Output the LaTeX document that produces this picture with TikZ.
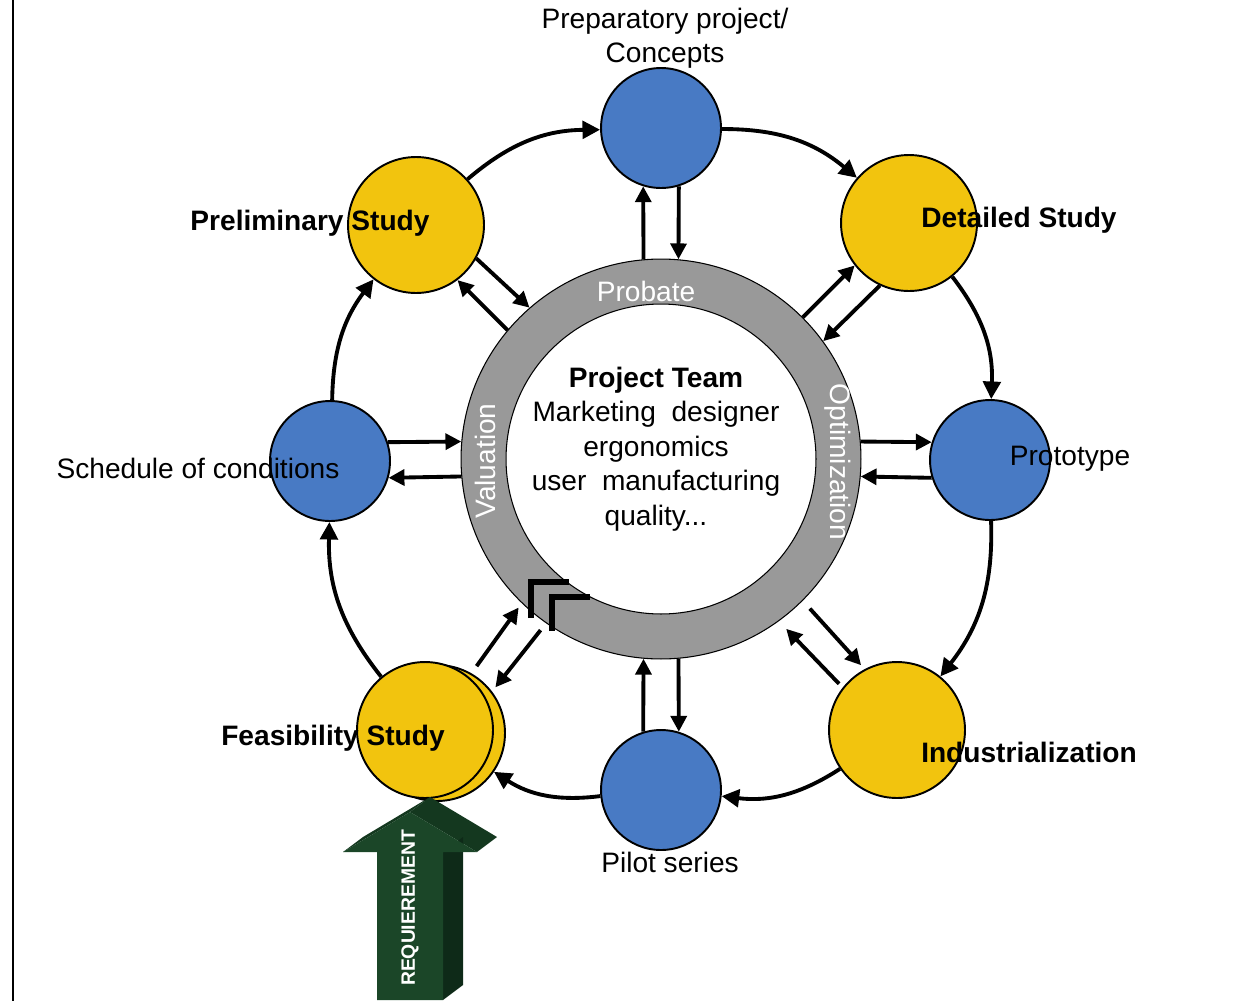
\documentclass[tikz,border=0pt]{standalone}
\usepackage{fontspec}
\setmainfont{Liberation Sans}
\usetikzlibrary{arrows.meta}
\definecolor{phaseyellow}{RGB}{242,196,14}
\definecolor{phaseblue}{RGB}{72,122,196}
\definecolor{ringgray}{RGB}{153,153,153}
\definecolor{reqfront}{RGB}{27,70,40}
\definecolor{reqside}{RGB}{14,42,24}
\definecolor{reqtop}{RGB}{20,56,31}

\begin{document}
\begin{tikzpicture}[x=0.02cm,y=-0.02cm]
\tikzstyle{yellownode}=[circle,draw,line width=1.1pt,fill=phaseyellow,minimum size=2.72cm,inner sep=0pt]
\tikzstyle{bluenode}=[circle,draw,line width=1.1pt,fill=phaseblue,minimum size=2.4cm,inner sep=0pt]
\tikzstyle{cyclearrow}=[line width=2.2pt,-{Triangle[length=10pt,width=10pt]}]
\tikzstyle{spokearrow}=[line width=2.2pt,-{Triangle[length=9pt,width=9pt]}]
\tikzstyle{lbl}=[inner sep=0pt,font=\fontsize{16}{19.5}\selectfont]
\tikzstyle{boldlbl}=[inner sep=0pt,font=\fontsize{16}{19.5}\selectfont\bfseries]
\useasboundingbox (0,0) rectangle (1236,1001);
\draw [line width=1.7pt] (13,0) -- (13,1001);
% ring and project team
\node [circle,draw,line width=0.6pt,fill=ringgray,minimum size=8cm,inner sep=0pt] (ring) at (661,459) {};
\node [circle,draw,line width=0.6pt,fill=white,minimum size=6.2cm,inner sep=0pt] (core) at (661,459) {};
\node [lbl,text=white] (probate) at (646,291) {Probate};
\node [lbl,text=white,rotate=90] (valuation) at (485,461) {Valuation};
\node [lbl,text=white,rotate=-90] (optim) at (838,462) {Optimization};
\node [lbl,align=center,font=\fontsize{16}{19.6}\selectfont] (team) at (656,449) {\textbf{Project Team}\\Marketing\ \ designer\\ergonomics\\user\ \ manufacturing\\quality...};
\draw [line width=3.4pt] (531,618) -- (531,582) -- (569,582);
\draw [line width=3.4pt] (552,631) -- (552,597) -- (590,597);
% phases
\node [bluenode] (conc) at (661,128) {};
\node [yellownode] (pre) at (416,225) {};
\node [yellownode] (det) at (909,223) {};
\node [bluenode] (sched) at (330,461) {};
\node [bluenode] (proto) at (990,460) {};
\node [yellownode] (feasback) at (437,733) {};
\node [yellownode] (feas) at (425,730) {};
\node [yellownode] (ind) at (897,730) {};
\node [bluenode] (pilot) at (661,790) {};
% cycle
\draw [cyclearrow] (sched) to[bend left=18] (pre);
\draw [cyclearrow] (pre) to[bend left=20] (conc);
\draw [cyclearrow] (conc) to[bend left=20] (det);
\draw [cyclearrow] (det) to[bend left=20] (proto);
\draw [cyclearrow] (proto) to[bend left=20] (ind);
\draw [cyclearrow] (ind) to[bend left=20] (pilot);
\draw [cyclearrow] (pilot) to[bend left=20] (feasback);
\draw [cyclearrow] (feas) to[bend left=20] (sched);
% to and from the team
\draw [spokearrow] (ring.95) -- (conc.-107);
\draw [spokearrow] (conc.-73) -- (ring.85);
\draw [spokearrow] (ring.140) -- (pre.-53);
\draw [spokearrow] (pre.-29) -- (ring.131);
\draw [spokearrow] (ring.45) -- (det.218);
\draw [spokearrow] (det.245) -- (ring.36);
\draw [spokearrow] (sched.18) -- (ring.175);
\draw [spokearrow] (ring.185) -- (sched.-16);
\draw [spokearrow] (ring.5) -- (proto.163);
\draw [spokearrow] (proto.197) -- (ring.-5);
\draw [spokearrow,shorten <=6pt,shorten >=3pt] (ring.-45) -- (ind.118);
\draw [spokearrow,shorten <=3pt,shorten >=6pt] (ind.142) -- (ring.-54);
\draw [spokearrow] (pilot.107) -- (ring.-95);
\draw [spokearrow] (ring.-85) -- (pilot.73);
\draw [spokearrow,shorten <=5pt,shorten >=3pt] (feasback.60) -- (ring.226);
\draw [spokearrow,shorten <=5pt,shorten >=3pt] (ring.235) -- (feasback.37);
% labels
\node [lbl,align=center,font=\fontsize{16}{19.5}\selectfont] (conclbl) at (665,38) {Preparatory project/\\Concepts};
\node [boldlbl] (prelbl) at (310,223) {Preliminary Study};
\node [boldlbl] (detlbl) at (1019,220) {Detailed Study};
\node [lbl] (schedlbl) at (198,468) {Schedule of conditions};
\node [lbl] (protolbl) at (1070,459) {Prototype};
\node [boldlbl] (feaslbl) at (333,738) {Feasibility Study};
\node [boldlbl] (indlbl) at (1029,752) {Industrialization};
\node [lbl] (pilotlbl) at (670,862) {Pilot series};
% requirement
\fill [reqtop] (343,852) -- (410,812) -- (430,797) -- (363,837) -- cycle;
\fill [reqtop] (410,812) -- (477,852) -- (497,837) -- (430,797) -- cycle;
\fill [reqside] (443,1000) -- (443,852) -- (463,837) -- (463,985) -- cycle;
\fill [reqfront] (377,1000) -- (377,852) -- (343,852) -- (410,812) -- (477,852) -- (443,852) -- (443,1000) -- cycle;
\node [rotate=90,text=white,inner sep=0pt,font=\fontsize{11}{13}\selectfont\bfseries] (req) at (410,908) {REQUIEREMENT};
\end{tikzpicture}
\end{document}
